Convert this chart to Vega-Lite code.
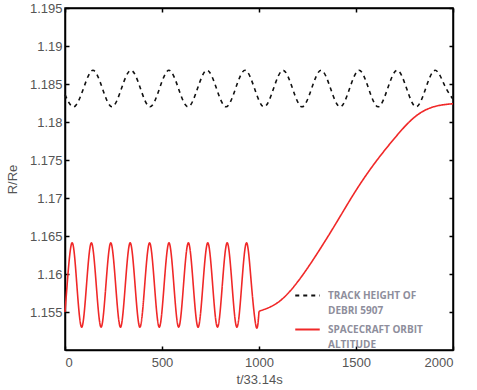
{
  "$schema": "https://vega.github.io/schema/vega-lite/v6.json",
  "autosize": "none",
  "width": 388,
  "height": 342,
  "padding": {"left": 65, "top": 8, "right": 24, "bottom": 40},
  "background": "white",
  "config": {
    "view": {"stroke": "black", "strokeWidth": 1.5},
    "axis": {"grid": false, "domainColor": "black", "domainWidth": 1.5, "tickColor": "black", "tickWidth": 1.5, "tickSize": -4, "labelPadding": 7, "labelFont": "Liberation Sans", "labelFontSize": 13, "labelColor": "#555555", "titleFont": "Liberation Sans", "titleFontSize": 13, "titleFontWeight": "normal", "titleColor": "#555555"},
    "style": {"guide-label": {"lineHeight": 15}}
  },
  "data": {"values": [
    {"t":0,"r":1.1836,"s":"TRACK HEIGHT OF DEBRI 5907","g":"a"},
    {"t":46,"r":1.1820,"s":"TRACK HEIGHT OF DEBRI 5907","g":"a"},
    {"t":95,"r":1.1844,"s":"TRACK HEIGHT OF DEBRI 5907","g":"a"},
    {"t":144,"r":1.1868,"s":"TRACK HEIGHT OF DEBRI 5907","g":"a"},
    {"t":193,"r":1.1844,"s":"TRACK HEIGHT OF DEBRI 5907","g":"a"},
    {"t":242,"r":1.1820,"s":"TRACK HEIGHT OF DEBRI 5907","g":"a"},
    {"t":291,"r":1.1844,"s":"TRACK HEIGHT OF DEBRI 5907","g":"a"},
    {"t":340,"r":1.1868,"s":"TRACK HEIGHT OF DEBRI 5907","g":"a"},
    {"t":389,"r":1.1844,"s":"TRACK HEIGHT OF DEBRI 5907","g":"a"},
    {"t":438,"r":1.1820,"s":"TRACK HEIGHT OF DEBRI 5907","g":"a"},
    {"t":487,"r":1.1844,"s":"TRACK HEIGHT OF DEBRI 5907","g":"a"},
    {"t":536,"r":1.1868,"s":"TRACK HEIGHT OF DEBRI 5907","g":"a"},
    {"t":585,"r":1.1844,"s":"TRACK HEIGHT OF DEBRI 5907","g":"a"},
    {"t":634,"r":1.1820,"s":"TRACK HEIGHT OF DEBRI 5907","g":"a"},
    {"t":683,"r":1.1844,"s":"TRACK HEIGHT OF DEBRI 5907","g":"a"},
    {"t":732,"r":1.1868,"s":"TRACK HEIGHT OF DEBRI 5907","g":"a"},
    {"t":781,"r":1.1844,"s":"TRACK HEIGHT OF DEBRI 5907","g":"a"},
    {"t":830,"r":1.1820,"s":"TRACK HEIGHT OF DEBRI 5907","g":"a"},
    {"t":879,"r":1.1844,"s":"TRACK HEIGHT OF DEBRI 5907","g":"a"},
    {"t":928,"r":1.1868,"s":"TRACK HEIGHT OF DEBRI 5907","g":"a"},
    {"t":977,"r":1.1844,"s":"TRACK HEIGHT OF DEBRI 5907","g":"a"},
    {"t":1026,"r":1.1820,"s":"TRACK HEIGHT OF DEBRI 5907","g":"a"},
    {"t":1075,"r":1.1844,"s":"TRACK HEIGHT OF DEBRI 5907","g":"a"},
    {"t":1124,"r":1.1868,"s":"TRACK HEIGHT OF DEBRI 5907","g":"a"},
    {"t":1173,"r":1.1844,"s":"TRACK HEIGHT OF DEBRI 5907","g":"a"},
    {"t":1222,"r":1.1820,"s":"TRACK HEIGHT OF DEBRI 5907","g":"a"},
    {"t":1271,"r":1.1844,"s":"TRACK HEIGHT OF DEBRI 5907","g":"a"},
    {"t":1320,"r":1.1868,"s":"TRACK HEIGHT OF DEBRI 5907","g":"a"},
    {"t":1369,"r":1.1844,"s":"TRACK HEIGHT OF DEBRI 5907","g":"a"},
    {"t":1418,"r":1.1820,"s":"TRACK HEIGHT OF DEBRI 5907","g":"a"},
    {"t":1467,"r":1.1844,"s":"TRACK HEIGHT OF DEBRI 5907","g":"a"},
    {"t":1516,"r":1.1868,"s":"TRACK HEIGHT OF DEBRI 5907","g":"a"},
    {"t":1565,"r":1.1844,"s":"TRACK HEIGHT OF DEBRI 5907","g":"a"},
    {"t":1614,"r":1.1820,"s":"TRACK HEIGHT OF DEBRI 5907","g":"a"},
    {"t":1663,"r":1.1844,"s":"TRACK HEIGHT OF DEBRI 5907","g":"a"},
    {"t":1712,"r":1.1868,"s":"TRACK HEIGHT OF DEBRI 5907","g":"a"},
    {"t":1761,"r":1.1844,"s":"TRACK HEIGHT OF DEBRI 5907","g":"a"},
    {"t":1810,"r":1.1820,"s":"TRACK HEIGHT OF DEBRI 5907","g":"a"},
    {"t":1859,"r":1.1844,"s":"TRACK HEIGHT OF DEBRI 5907","g":"a"},
    {"t":1908,"r":1.1868,"s":"TRACK HEIGHT OF DEBRI 5907","g":"a"},
    {"t":1957,"r":1.1848,"s":"TRACK HEIGHT OF DEBRI 5907","g":"a"},
    {"t":2000,"r":1.1830,"s":"TRACK HEIGHT OF DEBRI 5907","g":"a"},

    {"t":0,"r":1.1550,"s":"SPACECRAFT ORBIT ALTITUDE","g":"b"},
    {"t":11,"r":1.1586,"s":"SPACECRAFT ORBIT ALTITUDE","g":"b"},
    {"t":36,"r":1.1641,"s":"SPACECRAFT ORBIT ALTITUDE","g":"b"},
    {"t":61,"r":1.1586,"s":"SPACECRAFT ORBIT ALTITUDE","g":"b"},
    {"t":86,"r":1.1530,"s":"SPACECRAFT ORBIT ALTITUDE","g":"b"},
    {"t":111,"r":1.1586,"s":"SPACECRAFT ORBIT ALTITUDE","g":"b"},
    {"t":136,"r":1.1641,"s":"SPACECRAFT ORBIT ALTITUDE","g":"b"},
    {"t":161,"r":1.1586,"s":"SPACECRAFT ORBIT ALTITUDE","g":"b"},
    {"t":186,"r":1.1530,"s":"SPACECRAFT ORBIT ALTITUDE","g":"b"},
    {"t":211,"r":1.1586,"s":"SPACECRAFT ORBIT ALTITUDE","g":"b"},
    {"t":236,"r":1.1641,"s":"SPACECRAFT ORBIT ALTITUDE","g":"b"},
    {"t":261,"r":1.1586,"s":"SPACECRAFT ORBIT ALTITUDE","g":"b"},
    {"t":286,"r":1.1530,"s":"SPACECRAFT ORBIT ALTITUDE","g":"b"},
    {"t":311,"r":1.1586,"s":"SPACECRAFT ORBIT ALTITUDE","g":"b"},
    {"t":336,"r":1.1641,"s":"SPACECRAFT ORBIT ALTITUDE","g":"b"},
    {"t":361,"r":1.1586,"s":"SPACECRAFT ORBIT ALTITUDE","g":"b"},
    {"t":386,"r":1.1530,"s":"SPACECRAFT ORBIT ALTITUDE","g":"b"},
    {"t":411,"r":1.1586,"s":"SPACECRAFT ORBIT ALTITUDE","g":"b"},
    {"t":436,"r":1.1641,"s":"SPACECRAFT ORBIT ALTITUDE","g":"b"},
    {"t":461,"r":1.1586,"s":"SPACECRAFT ORBIT ALTITUDE","g":"b"},
    {"t":486,"r":1.1530,"s":"SPACECRAFT ORBIT ALTITUDE","g":"b"},
    {"t":511,"r":1.1586,"s":"SPACECRAFT ORBIT ALTITUDE","g":"b"},
    {"t":536,"r":1.1641,"s":"SPACECRAFT ORBIT ALTITUDE","g":"b"},
    {"t":561,"r":1.1586,"s":"SPACECRAFT ORBIT ALTITUDE","g":"b"},
    {"t":586,"r":1.1530,"s":"SPACECRAFT ORBIT ALTITUDE","g":"b"},
    {"t":611,"r":1.1586,"s":"SPACECRAFT ORBIT ALTITUDE","g":"b"},
    {"t":636,"r":1.1641,"s":"SPACECRAFT ORBIT ALTITUDE","g":"b"},
    {"t":661,"r":1.1586,"s":"SPACECRAFT ORBIT ALTITUDE","g":"b"},
    {"t":686,"r":1.1530,"s":"SPACECRAFT ORBIT ALTITUDE","g":"b"},
    {"t":711,"r":1.1586,"s":"SPACECRAFT ORBIT ALTITUDE","g":"b"},
    {"t":736,"r":1.1641,"s":"SPACECRAFT ORBIT ALTITUDE","g":"b"},
    {"t":761,"r":1.1586,"s":"SPACECRAFT ORBIT ALTITUDE","g":"b"},
    {"t":786,"r":1.1530,"s":"SPACECRAFT ORBIT ALTITUDE","g":"b"},
    {"t":811,"r":1.1586,"s":"SPACECRAFT ORBIT ALTITUDE","g":"b"},
    {"t":836,"r":1.1641,"s":"SPACECRAFT ORBIT ALTITUDE","g":"b"},
    {"t":861,"r":1.1586,"s":"SPACECRAFT ORBIT ALTITUDE","g":"b"},
    {"t":886,"r":1.1530,"s":"SPACECRAFT ORBIT ALTITUDE","g":"b"},
    {"t":911,"r":1.1586,"s":"SPACECRAFT ORBIT ALTITUDE","g":"b"},
    {"t":936,"r":1.1641,"s":"SPACECRAFT ORBIT ALTITUDE","g":"b"},
    {"t":961,"r":1.1586,"s":"SPACECRAFT ORBIT ALTITUDE","g":"b"},
    {"t":986,"r":1.1530,"s":"SPACECRAFT ORBIT ALTITUDE","g":"b"},
    {"t":1000,"r":1.1551,"s":"SPACECRAFT ORBIT ALTITUDE","g":"b"},

    {"t":1000,"r":1.1551,"s":"SPACECRAFT ORBIT ALTITUDE","g":"c"},
    {"t":1100,"r":1.1563,"s":"SPACECRAFT ORBIT ALTITUDE","g":"c"},
    {"t":1200,"r":1.1590,"s":"SPACECRAFT ORBIT ALTITUDE","g":"c"},
    {"t":1300,"r":1.1627,"s":"SPACECRAFT ORBIT ALTITUDE","g":"c"},
    {"t":1400,"r":1.1668,"s":"SPACECRAFT ORBIT ALTITUDE","g":"c"},
    {"t":1500,"r":1.1710,"s":"SPACECRAFT ORBIT ALTITUDE","g":"c"},
    {"t":1600,"r":1.1747,"s":"SPACECRAFT ORBIT ALTITUDE","g":"c"},
    {"t":1700,"r":1.1779,"s":"SPACECRAFT ORBIT ALTITUDE","g":"c"},
    {"t":1800,"r":1.1806,"s":"SPACECRAFT ORBIT ALTITUDE","g":"c"},
    {"t":1900,"r":1.1820,"s":"SPACECRAFT ORBIT ALTITUDE","g":"c"},
    {"t":2000,"r":1.1824,"s":"SPACECRAFT ORBIT ALTITUDE","g":"c"}
  ]},
  "layer": [
    {
      "mark": {"type": "line", "interpolate": "natural", "strokeWidth": 1.6},
      "encoding": {
        "x": {"field": "t", "type": "quantitative", "scale": {"domain": [0, 2000], "nice": false}, "axis": {"values": [0, 500, 1000, 1500, 2000], "format": "d", "title": "t/33.14s", "labelPadding": 10, "titlePadding": 4}},
        "y": {"field": "r", "type": "quantitative", "scale": {"domain": [1.15, 1.195], "nice": false, "zero": false}, "axis": {"values": [1.155, 1.16, 1.165, 1.17, 1.175, 1.18, 1.185, 1.19, 1.195], "format": "~g", "title": "R/Re", "titlePadding": 10}},
        "detail": {"field": "g"},
        "color": {"field": "s", "type": "nominal", "scale": {"domain": ["TRACK HEIGHT OF DEBRI 5907", "SPACECRAFT ORBIT ALTITUDE"], "range": ["#111111", "#f02828"]},
          "legend": {"orient": "none", "legendX": 229, "legendY": 274, "title": null, "padding": 0, "symbolType": "stroke", "symbolSize": 600, "symbolStrokeWidth": 2, "labelFont": "Open Sans", "labelFontSize": 10, "labelFontWeight": "bold", "labelColor": "#8e8e9c", "labelOffset": 7, "labelBaseline": "middle", "rowPadding": -1, "labelLimit": 200,
            "labelExpr": "datum.label == 'TRACK HEIGHT OF DEBRI 5907' ? ['TRACK HEIGHT OF', 'DEBRI 5907'] : ['SPACECRAFT ORBIT', 'ALTITUDE']"}},
        "strokeDash": {"field": "s", "type": "nominal", "scale": {"domain": ["TRACK HEIGHT OF DEBRI 5907", "SPACECRAFT ORBIT ALTITUDE"], "range": [[4, 4], [1, 0]]}, "legend": null}
      }
    },
    {
      "mark": {"type": "line", "opacity": 0},
      "encoding": {
        "x": {"field": "t", "type": "quantitative", "axis": {"orient": "top", "values": [0, 500, 1000, 1500, 2000], "labels": false, "title": null}},
        "y": {"field": "r", "type": "quantitative", "axis": {"orient": "right", "values": [1.155, 1.16, 1.165, 1.17, 1.175, 1.18, 1.185, 1.19, 1.195], "labels": false, "title": null}},
        "detail": {"field": "g"}
      }
    }
  ],
  "resolve": {"axis": {"x": "independent", "y": "independent"}}
}
